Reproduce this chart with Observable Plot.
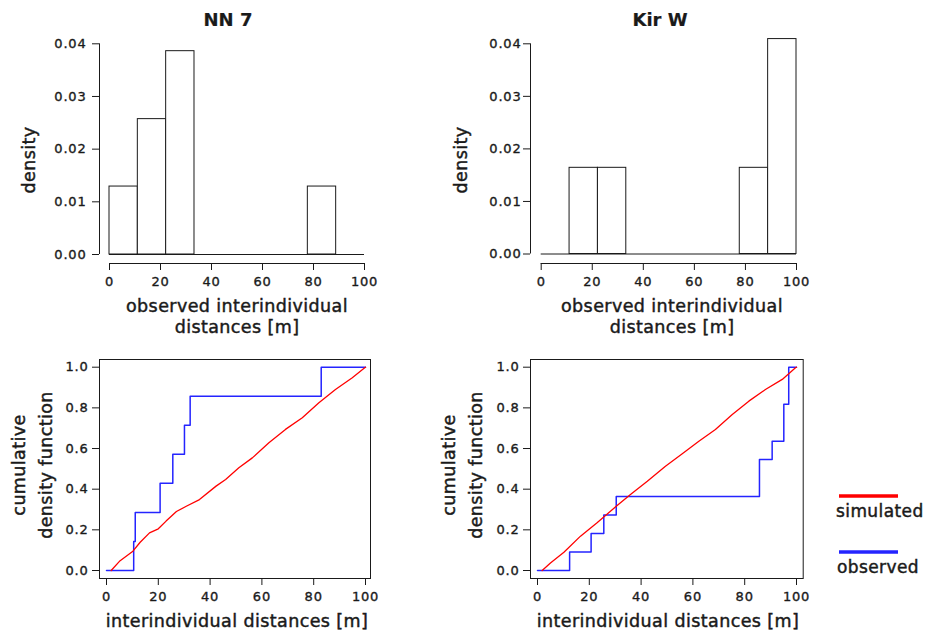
<!DOCTYPE html>
<html>
<head>
<meta charset="utf-8">
<script src="https://cdn.jsdelivr.net/npm/d3@7"></script>
<script src="https://cdn.jsdelivr.net/npm/@observablehq/plot@0.6"></script>
<style>
  body { margin: 0; background: #fff; }
  #root { position: relative; width: 925px; height: 636px; overflow: hidden; background: #fff; }
  #root > svg, #root > .panel { position: absolute; }
  #overlay { left: 0; top: 0; pointer-events: none; }
</style>
</head>
<body>
<div id="root"></div>
<script>
// ---------------- data ----------------
const xTicks = [0, 20, 40, 60, 80, 100];
const densityTicks = [0, 0.01, 0.02, 0.03, 0.04];
const cdfTicks = [0, 0.2, 0.4, 0.6, 0.8, 1.0];
const binEdges = [0, 11.11, 22.22, 33.33, 44.44, 55.56, 66.67, 77.78, 88.89, 100];
const nn7Density = [0.0129, 0.0257, 0.0386, 0, 0, 0, 0, 0.0129, 0];
const kirwDensity = [0, 0.0164, 0.0164, 0, 0, 0, 0, 0.0164, 0.0409];
const nn7Observed = [10.5, 11.1, 20.7, 25.6, 30.1, 32.3, 82.9];
const kirwObserved = [12.4, 20.7, 25.6, 30.4, 85.7, 85.7, 90.6, 95.1, 95.1, 97.0, 97.0];
const nn7SimX = [1.8, 5, 10.2, 13, 16.6, 20, 23.0, 27, 30.8, 35.9, 42.3, 46, 51.1, 56.3, 62.7, 69.1, 75.6, 82.0, 88.4, 94.9, 99.7, 100];
const nn7SimY = [0, 0.045, 0.095, 0.139, 0.185, 0.205, 0.243, 0.29, 0.316, 0.349, 0.415, 0.448, 0.505, 0.554, 0.628, 0.694, 0.751, 0.825, 0.890, 0.948, 0.997, 1.0];
const kirwSimX = [1.8, 5, 10.2, 16.6, 23.0, 30.4, 35.9, 42.4, 49.4, 55.9, 62.3, 68.7, 75.2, 81.6, 88.0, 94.5, 99.6, 100];
const kirwSimY = [0, 0.037, 0.09, 0.169, 0.235, 0.316, 0.374, 0.439, 0.513, 0.574, 0.636, 0.694, 0.767, 0.833, 0.890, 0.940, 0.997, 1.0];
const titles = ["NN 7", "Kir W"];
const histXLabel = ["observed interindividual", "distances [m]"];
const histYLabel = "density";
const cdfXLabel = "interindividual distances [m]";
const cdfYLabel = ["cumulative", "density function"];
const legendLabels = ["simulated", "observed"];
const simColor = "#ff0000";
const obsColor = "#2424ff";

// ---------------- helpers ----------------
const FONT = "'DejaVu Sans', Verdana, sans-serif";
const ink = "#1a1a1a";
function domainFor(v0, p0, v1, p1, e0, e1) {
  const k = (v1 - v0) / (p1 - p0);
  return [v0 + (e0 - p0) * k, v0 + (e1 - p0) * k];
}
const root = document.getElementById("root");
function place(svg, left, top) {
  svg.style.position = "absolute";
  svg.style.left = left + "px";
  svg.style.top = top + "px";
  d3.select(svg).selectAll("text").attr("stroke", ink).attr("stroke-width", 0.35);
  root.appendChild(svg);
}
const axisStyle = {fontFamily: FONT, fontSize: "13px", letterSpacing: "0.8px", color: ink, background: "transparent", overflow: "visible"};

function histPanel(density, g) {
  const bins = density.map((d, i) => ({x1: binEdges[i], x2: binEdges[i + 1], y: d}));
  const W = g.width, H = g.height;
  const xDomain = domainFor(0, g.x0, 100, g.x100, g.frameL, W - g.mr);
  const yDomain = domainFor(0, g.y0, 0.04, g.y04, H - g.mb, g.mt);
  return Plot.plot({
    width: W, height: H,
    marginLeft: g.frameL, marginRight: g.mr, marginTop: g.mt, marginBottom: g.mb,
    x: {domain: xDomain},
    y: {domain: yDomain},
    style: axisStyle,
    marks: [
      Plot.ruleY([0], {x1: binEdges[0], x2: binEdges[binEdges.length - 1], stroke: ink, strokeWidth: 1}),
      Plot.rectY(bins.filter(b => b.y > 0), {x1: "x1", x2: "x2", y1: 0, y2: "y", fill: "white", stroke: ink, strokeWidth: 1}),
      Plot.ruleY([yDomain[0]], {x1: xTicks[0], x2: xTicks[xTicks.length - 1], stroke: ink, strokeWidth: 1}),
      Plot.ruleX([xDomain[0]], {y1: densityTicks[0], y2: densityTicks[densityTicks.length - 1], stroke: ink, strokeWidth: 1}),
      Plot.axisX({ticks: xTicks, tickSize: 7, tickPadding: 6, label: null, anchor: "bottom"}),
      Plot.axisY({ticks: densityTicks, tickFormat: d3.format(".2f"), tickSize: 7, tickPadding: g.yPad, label: null, anchor: "left"})
    ]
  });
}

function cdfPanel(obs, simX, simY, g) {
  const n = obs.length;
  const sorted = [...obs].sort((a, b) => a - b);
  const steps = [{x: xTicks[0], y: 0}, ...sorted.map((v, i) => ({x: v, y: (i + 1) / n})), {x: xTicks[xTicks.length - 1], y: 1}];
  const sim = simX.map((x, i) => ({x, y: simY[i]}));
  const W = g.width, H = g.height;
  const xDomain = domainFor(0, g.x0, 100, g.x100, g.frameL, W - g.mr);
  const yDomain = domainFor(0, g.y0, 1, g.y1, H - g.mb, g.mt);
  return Plot.plot({
    width: W, height: H,
    marginLeft: g.frameL, marginRight: g.mr, marginTop: g.mt, marginBottom: g.mb,
    x: {domain: xDomain},
    y: {domain: yDomain},
    style: axisStyle,
    marks: [
      Plot.frame({stroke: ink, strokeWidth: 1}),
      Plot.line(steps, {x: "x", y: "y", curve: "step-after", stroke: obsColor, strokeWidth: 1.5}),
      Plot.line(sim, {x: "x", y: "y", stroke: simColor, strokeWidth: 1.3}),
      Plot.axisX({ticks: xTicks, tickSize: 7, tickPadding: 6, label: null, anchor: "bottom"}),
      Plot.axisY({ticks: cdfTicks, tickFormat: d3.format(".1f"), tickSize: 7, tickPadding: 4, label: null, anchor: "left"})
    ]
  });
}

// ---------------- panels ----------------
place(histPanel(nn7Density, {width: 400, height: 340, frameL: 99, mr: 36, mt: 43.3, mb: 77, x0: 109, x100: 364, y0: 254, y04: 43.3, yPad: 6}), 0, 0);
place(histPanel(kirwDensity, {width: 400, height: 340, frameL: 90, mr: 44, mt: 43.3, mb: 77, x0: 100.7, x100: 356, y0: 253.5, y04: 43.3, yPad: 2}), 440, 0);
place(cdfPanel(nn7Observed, nn7SimX, nn7SimY, {width: 400, height: 296, frameL: 99, mr: 30, mt: 19, mb: 58, x0: 106, x100: 365, y0: 230, y1: 26.7}), 0, 340);
place(cdfPanel(kirwObserved, kirwSimX, kirwSimY, {width: 400, height: 296, frameL: 100, mr: 27.3, mt: 19, mb: 58, x0: 107, x100: 366, y0: 230, y1: 26.7}), 430, 340);

// ---------------- titles, axis labels, legend ----------------
const ov = d3.select(root).append("svg").attr("id", "overlay")
  .attr("width", 925).attr("height", 636)
  .style("font-family", FONT).style("fill", ink);

function label(x, y, text, opts = {}) {
  const t = ov.append("text").attr("x", x).attr("y", y).text(text)
    .attr("text-anchor", opts.anchor || "middle")
    .attr("font-size", opts.size || 17.5)
    .attr("font-weight", opts.weight || "normal")
    .attr("letter-spacing", opts.ls != null ? opts.ls : 0.4)
    .attr("fill", ink)
    .attr("stroke", ink)
    .attr("stroke-width", opts.weight === "bold" ? 0.2 : 0.45);
  if (opts.rotate) t.attr("transform", `rotate(-90 ${x} ${y})`).attr("dominant-baseline", "central");
  return t;
}
label(228, 26, titles[0], {size: 18, weight: "bold", ls: 0});
label(660, 26, titles[1], {size: 18, weight: "bold", ls: 0});
[237, 672].forEach(cx => {
  label(cx, 312, histXLabel[0]);
  label(cx, 333, histXLabel[1]);
});
label(29, 160, histYLabel, {rotate: true});
label(461, 160, histYLabel, {rotate: true});
label(237, 627, cdfXLabel);
label(668, 627, cdfXLabel);
[[19, 46], [449, 476]].forEach(([a, b]) => {
  label(a, 465, cdfYLabel[0], {rotate: true});
  label(b, 465, cdfYLabel[1], {rotate: true});
});
ov.append("line").attr("x1", 839).attr("x2", 898).attr("y1", 496).attr("y2", 496).attr("stroke", simColor).attr("stroke-width", 3.5);
label(836, 517, legendLabels[0], {anchor: "start", size: 17});
ov.append("line").attr("x1", 839).attr("x2", 898).attr("y1", 552).attr("y2", 552).attr("stroke", obsColor).attr("stroke-width", 3.5);
label(837, 573, legendLabels[1], {anchor: "start", size: 17});
</script>
</body>
</html>
